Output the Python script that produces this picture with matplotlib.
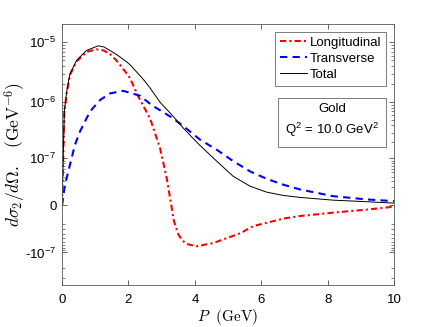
import numpy as np
import matplotlib
matplotlib.use("Agg")
import matplotlib.pyplot as plt
from matplotlib.patches import Rectangle

plt.rcParams['font.family'] = ['Liberation Sans', 'DejaVu Sans']
plt.rcParams['mathtext.fontset'] = 'custom'
plt.rcParams['mathtext.rm'] = 'Liberation Sans'
plt.rcParams['mathtext.it'] = 'Liberation Sans:italic'
plt.rcParams['mathtext.sf'] = 'Liberation Sans'

# values (P in GeV, cross section in GeV^-6)
p_long = [0, 0.07, 0.14, 0.24, 0.44, 0.74, 1.04, 1.25, 1.44, 1.65, 1.95, 2.05, 2.3,
          2.65, 2.95, 3.15, 3.3, 3.37, 3.5, 3.61, 3.75, 4.05, 4.55, 5.36, 5.76,
          6.66, 7.16, 8.16, 9.17, 10.0]
longitudinal = [0, 6.6e-7, 1.4e-6, 2.85e-6, 4.8e-6, 6.9e-6, 7.6e-6, 7.3e-6, 6.4e-6,
                4.9e-6, 3.0e-6, 2.5e-6, 1.23e-6, 5.3e-7, 1.57e-7, 3.7e-8, -1.8e-9,
                -1.67e-8, -4.0e-8, -5.5e-8, -6.7e-8, -7.5e-8, -6.4e-8, -3.8e-8,
                -2.4e-8, -1.31e-8, -1.0e-8, -6.4e-9, -3.5e-9, -1.0e-9]

p_trans = [0, 0.09, 0.24, 0.39, 0.54, 0.84, 1.14, 1.44, 1.84, 2.35, 2.7, 3.3, 3.65,
           4.15, 4.66, 5.15, 5.66, 6.16, 6.66, 7.16, 7.66, 8.16, 9.17, 10.0]
transverse = [0, 2.4e-8, 7.4e-8, 1.81e-7, 3.13e-7, 6.9e-7, 1.08e-6, 1.40e-6, 1.55e-6,
              1.28e-6, 8.9e-7, 5.5e-7, 3.9e-7, 2.25e-7, 1.46e-7, 8.8e-8, 5.3e-8,
              3.5e-8, 2.4e-8, 1.67e-8, 1.23e-8, 8.4e-9, 5.1e-9, 3.5e-9]

p_total = [0, 0.07, 0.14, 0.24, 0.44, 0.74, 1.09, 1.26, 1.44, 1.65, 1.95, 2.05, 2.45,
           2.65, 2.95, 3.35, 3.65, 3.95, 4.15, 4.66, 5.15, 5.66, 6.16, 6.66, 7.16,
           8.16, 9.17, 10.0]
total = [0, 7e-7, 1.5e-6, 3.0e-6, 5.0e-6, 7.3e-6, 8.7e-6, 8.35e-6, 7.3e-6, 6.2e-6,
         4.7e-6, 4.2e-6, 2.4e-6, 1.73e-6, 1.0e-6, 5.7e-7, 3.6e-7, 2.35e-7, 1.77e-7,
         8.7e-8, 4.06e-8, 2.15e-8, 1.31e-8, 9.2e-9, 7.1e-9, 4.4e-9, 3.0e-9, 1.8e-9]

C = 2e-8


def fwd(y):
    y = np.asarray(y, dtype=float)
    return np.sign(y) * np.log10(1 + np.abs(y) / C)


def inv(z):
    z = np.asarray(z, dtype=float)
    return np.sign(z) * C * (10 ** np.abs(z) - 1)


fig = plt.figure(figsize=(4.36, 3.27), dpi=100)
ax = fig.add_axes([0.1422, 0.1275, 0.7622, 0.7991])
ax.set_yscale('function', functions=(fwd, inv))

ax.plot(p_long, longitudinal, color='red', ls=(0, (3, 1.5, 1, 1.5)), lw=1.5,
        label='Longitudinal')
ax.plot(p_trans, transverse, color='blue', ls=(0, (3.5, 2.5)), lw=1.5,
        label='Transverse')
ax.plot(p_total, total, color='black', ls='-', lw=0.7, label='Total')

ax.set_xlim(0, 10)
ax.set_ylim(-4e-7, 2e-5)
ax.set_xticks([0, 2, 4, 6, 8, 10])
ax.set_yticks([-1e-7, 0, 1e-7, 1e-6, 1e-5],
              ['-$\\mathrm{10^{-7}}$', '0', '$\\mathrm{10^{-7}}$',
               '$\\mathrm{10^{-6}}$', '$\\mathrm{10^{-5}}$'])
minor = []
for n in [-8, -7, -6]:
    for k in range(2, 10):
        minor += [k * 10.0 ** n, -k * 10.0 ** n]
minor = [m for m in minor if -4e-7 < m < 2e-5]
ax.set_yticks(minor, minor=True)
ax.tick_params(which='both', direction='in', top=True, right=True,
               labelsize=9.5, color='0.3')
ax.tick_params(which='major', length=3.5, width=0.6)
ax.tick_params(which='minor', length=2, width=0.5)
ax.tick_params(axis='y', pad=4)
ax.tick_params(axis='x', pad=6)
for s in ax.spines.values():
    s.set_color('0.35')
    s.set_linewidth(0.6)

ax.set_xlabel('$P\\ \\ \\mathrm{(GeV)}$', fontsize=11, math_fontfamily='cm', labelpad=1)
ax.set_ylabel('$d\\sigma_2/d\\Omega.\\ \\ \\ \\mathrm{(GeV^{-6})}$', fontsize=12.5,
              math_fontfamily='cm')
ax.yaxis.set_label_coords(-0.102, 0.5)

leg = ax.legend(loc='upper right', bbox_to_anchor=(0.975, 0.97), borderaxespad=0,
                fontsize=9.5, fancybox=False, framealpha=1, edgecolor='0.4',
                handlelength=2.1, handletextpad=0.2, labelspacing=0.3,
                borderpad=0.35)
leg.get_frame().set_linewidth(0.6)

ax.add_patch(Rectangle((0.651, 0.530), 0.324, 0.1855, transform=ax.transAxes,
                       fill=False, edgecolor='0.4', lw=0.6, zorder=5))
ax.text(0.813, 0.674, 'Gold', transform=ax.transAxes, ha='center', va='center',
        fontsize=9.5)
ax.text(0.813, 0.594, 'Q$^{2}$ = 10.0 GeV$^{2}$', transform=ax.transAxes,
        ha='center', va='center', fontsize=9.5)

fig.savefig('out.png', dpi=100)
